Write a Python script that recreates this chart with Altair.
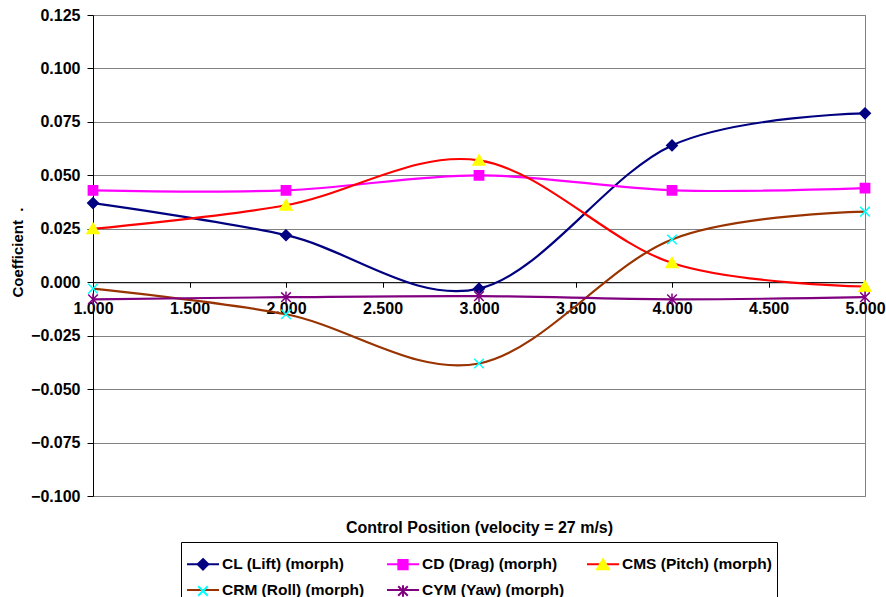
import altair as alt
import pandas as pd

# Control positions tested and the five measured coefficients
positions = [1.0, 2.0, 3.0, 4.0, 5.0]
series_names = [
    "CL (Lift) (morph)",
    "CD (Drag) (morph)",
    "CMS (Pitch) (morph)",
    "CRM (Roll) (morph)",
    "CYM (Yaw) (morph)",
]
cl_lift = [0.037, 0.022, -0.003, 0.064, 0.079]
cd_drag = [0.043, 0.043, 0.050, 0.043, 0.044]
cms_pitch = [0.025, 0.036, 0.057, 0.009, -0.002]
crm_roll = [-0.003, -0.015, -0.038, 0.020, 0.033]
cym_yaw = [-0.008, -0.007, -0.0065, -0.008, -0.007]

x_ticks = [1.0, 1.5, 2.0, 2.5, 3.0, 3.5, 4.0, 4.5, 5.0]
y_ticks = [-0.1, -0.075, -0.05, -0.025, 0.0, 0.025, 0.05, 0.075, 0.1, 0.125]

line_colors = ["#000080", "#FF00FF", "#FF0000", "#993300", "#800080"]
marker_colors = ["#000080", "#FF00FF", "#FFFF00", "#00FFFF", "#800080"]
# Marker glyphs; the leading bare moves keep every glyph's bounds as wide as
# the legend's line sample so both legends lay out identically.
marker_paths = [
    "M-1,0M1,0M0,-0.33L0.33,0L0,0.33L-0.33,0Z",
    "M-1,0M1,0M-0.29,-0.29H0.29V0.29H-0.29Z",
    "M-1,0M1,0M0,-0.34L0.37,0.29H-0.37Z",
    "M-1,0M1,0M-0.3,-0.3L0.3,0.3M-0.3,0.3L0.3,-0.3",
    "M-1,0M1,0M-0.3,-0.3L0.3,0.3M-0.3,0.3L0.3,-0.3M0,-0.36V0.36",
]

values_by_series = [cl_lift, cd_drag, cms_pitch, crm_roll, cym_yaw]
rows = []
for name, vals in zip(series_names, values_by_series):
    for p, v in zip(positions, vals):
        rows.append({"pos": p, "series": name, "value": v})
df = pd.DataFrame(rows)

W, H = 772, 481
y_dom = [-0.1, 0.125]
# the category axis crosses the value axis at zero
zero_offset = -H * (0 - y_dom[0]) / (y_dom[1] - y_dom[0])

FONT = "Liberation Sans"

x_scale = alt.Scale(domain=[1, 5], nice=False, zero=False)
y_scale = alt.Scale(domain=y_dom, nice=False, zero=False)

y_axis = alt.Axis(
    values=y_ticks,
    format=".3f",
    grid=True,
    gridColor="#808080",
    gridWidth=1,
    domainColor="#000000",
    tickColor="#000000",
    tickSize=6,
    labelPadding=7,
    labelFontSize=16,
    title="Coefficient\u00a0\u00a0.",
    titleFontSize=15,
    titleAngle=270,
    titleX=-71,
    titleY=237,
    titleAlign="center",
    titleBaseline="alphabetic",
)

legend_common = dict(
    orient="none",
    legendX=88,
    legendY=527,
    columns=3,
    direction="horizontal",
    gridAlign="all",
    title=None,
    padding=5,
    rowPadding=-6,
    columnPadding=11,
    labelOffset=2,
    labelFont=FONT,
    labelFontSize=15.5,
    labelFontWeight="bold",
    labelColor="#000000",
    labelLimit=400,
    symbolSize=1024,
    symbolStrokeWidth=2,
)

legend_lines = alt.Legend(symbolType="stroke", strokeColor="#000000", **legend_common)
legend_marks = alt.Legend(labelOpacity=0, **legend_common)

base = alt.Chart(df)

lines = base.mark_line(interpolate="cardinal", strokeWidth=2.2).encode(
    x=alt.X(
        "pos:Q",
        scale=x_scale,
        axis=alt.Axis(
            orient="bottom",
            values=x_ticks,
            format=".3f",
            offset=zero_offset,
            grid=False,
            title=None,
            domainColor="#000000",
            tickColor="#000000",
            tickSize=5,
            labelPadding=13,
            labelFontSize=16,
            labelFlush=False,
            labelOverlap=False,
            labelBound=False,
        ),
    ),
    y=alt.Y("value:Q", scale=y_scale, axis=y_axis),
    stroke=alt.Stroke(
        "series:N",
        scale=alt.Scale(domain=series_names, range=line_colors),
        legend=legend_lines,
    ),
)

points = base.mark_point(size=1024, opacity=1, strokeWidth=1.5).encode(
    x=alt.X(
        "pos:Q",
        scale=x_scale,
        axis=alt.Axis(
            orient="bottom",
            title="Control Position (velocity = 27 m/s)",
            labels=False,
            ticks=False,
            domain=False,
            grid=False,
            titleFontSize=16,
            titleX=386,
            titleY=36,
            titleAlign="center",
            titleBaseline="alphabetic",
        ),
    ),
    y=alt.Y("value:Q", scale=y_scale, axis=y_axis),
    shape=alt.Shape(
        "series:N",
        scale=alt.Scale(domain=series_names, range=marker_paths),
        legend=legend_marks,
    ),
    fill=alt.Fill(
        "series:N",
        scale=alt.Scale(domain=series_names, range=marker_colors),
        legend=legend_marks,
    ),
    stroke=alt.Stroke(
        "series:N",
        scale=alt.Scale(domain=series_names, range=marker_colors),
        legend=legend_marks,
    ),
)

chart = (
    alt.layer(lines, points)
    .resolve_scale(stroke="independent")
    .resolve_legend(stroke="independent", fill="independent", shape="independent")
    .resolve_axis(x="independent")
    .properties(
        width=W,
        height=H,
        autosize=alt.AutoSizeParams(type="none"),
        padding={"left": 93, "top": 15, "right": 21, "bottom": 101},
        background="#FFFFFF",
    )
    .configure_view(stroke="#808080", strokeWidth=1)
    .configure_axis(
        labelFont=FONT,
        labelFontWeight="bold",
        labelColor="#000000",
        titleFont=FONT,
        titleFontWeight="bold",
        titleColor="#000000",
        domainWidth=1,
        tickWidth=1,
    )
)

chart.save("out.html", embed_options={"renderer": "svg", "actions": False})
